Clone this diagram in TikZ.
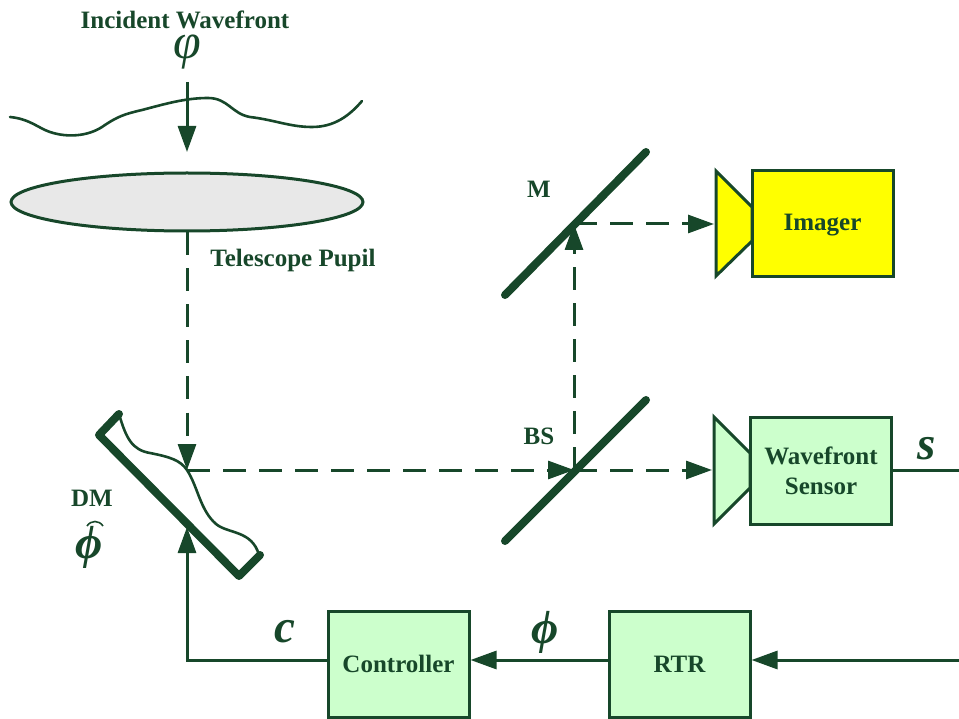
\documentclass[tikz,border=0pt]{standalone}
\usepackage{fontspec}
\setmainfont{Liberation Serif}
\usetikzlibrary{arrows.meta}
\usetikzlibrary{positioning}
\usetikzlibrary{shapes.geometric}
\definecolor{darkline}{HTML}{17472A}
\definecolor{paleblock}{HTML}{CCFFCC}
\definecolor{pupilgrey}{HTML}{E8E8E8}
\definecolor{imageryellow}{RGB}{255,255,0}
\tikzset{
  beam/.style={darkline, line width=3pt},
  dashbeam/.style={beam, dash pattern=on 23pt off 13pt},
  tip/.style={-{Triangle[length=26pt,width=18pt]}},
  mirror/.style={darkline, line width=8pt, line cap=round, line join=round},
  block/.style={draw=darkline, line width=3pt, minimum width=141pt, minimum height=106pt, inner sep=0pt, align=center, text=darkline, font=\fontsize{25}{30}\selectfont\bfseries},
  cone/.style={draw=darkline, line width=3pt, line join=miter},
  caption/.style={text=darkline, inner sep=0pt, font=\fontsize{25}{28}\selectfont\bfseries},
  symbol/.style={text=darkline, inner sep=0pt, font=\fontsize{47}{47}\selectfont\bfseries\itshape}
}
\begin{document}
\begin{tikzpicture}[x=1pt, y=-1pt]
\useasboundingbox (0,0) rectangle (959,719);

% Wellenfront und Pupille
\draw[darkline, line width=2.6pt, line cap=round] (10,117) .. controls (30,119) and (38,128) .. (50,132)
  .. controls (68,138) and (88,136) .. (102,127) .. controls (118,116) and (125,114) .. (142,110)
  .. controls (165,104) and (185,98) .. (208,98) .. controls (228,98) and (232,114) .. (250,117)
  .. controls (275,120) and (290,127) .. (312,127) .. controls (335,127) and (350,115) .. (362,101);
\node[draw=darkline, fill=pupilgrey, line width=3pt, shape=ellipse, minimum width=352pt, minimum height=58pt, inner sep=0pt] (pupil) at (187,202) {};
\node[caption] (inctext) at (185,20) {Incident Wavefront};
\node[symbol, font=\fontsize{50}{50}\selectfont\itshape, text height=26pt, text depth=8pt] (incphi) at (187,50) {φ};
\node[caption] (puptext) at (293,260) {Telescope Pupil};
\coordinate (incstart) at (187,82);
\coordinate (incend) at (187,152);

% Spiegel
\coordinate (dmhit) at (187,470);
\coordinate (dmback) at (187,527);
\coordinate (bshit) at (574,470);
\coordinate (mhit) at (574,224);
\draw[mirror] (119,414) -- (99,435) -- (239,576) -- (260,555);
\draw[darkline, line width=2.6pt] (119,414) .. controls (126,438) and (132,450) .. (150,453)
  .. controls (170,457) and (180,460) .. (187,470) .. controls (198,487) and (200,510) .. (216,524)
  .. controls (228,534) and (252,530) .. (259,555);
\draw[mirror] (505,541) -- (646,400);
\draw[mirror] (505,295) -- (646,152);
\node[caption] (mtext) at (539,189) {M};
\node[caption] (bstext) at (539,436) {BS};
\node[caption] (dmtext) at (92,498) {DM};
\node[symbol] (dmphi) at (89,547) {ϕ};
\draw[darkline, line width=1.6pt] (87,526) .. controls (91,520) and (99,520) .. (103,526);

% Kamera Imager
\draw[cone, fill=imageryellow] (716,171) -- (752,207) -- (752,241) -- (716,276) -- cycle;
\node[block, fill=imageryellow] (imager) at (822.5,224) {\raisebox{0pt}[20pt][6pt]{Imager}};
\coordinate (imgin) at (714,224);

% Kamera Wavefront Sensor
\draw[cone, fill=paleblock] (714,417) -- (750,453) -- (750,488) -- (714,524) -- cycle;
\node[block, fill=paleblock, minimum height=107pt] (sensor) at (821,470.5) {Wavefront\\Sensor};
\coordinate (senin) at (712,470);

% Regelkreis
\node[block, fill=paleblock] (controller) at (398.5,664) {Controller};
\node[block, fill=paleblock] (rtr) at (679.5,664) {RTR};
\coordinate (senout) at (959,470);
\coordinate (rtrin) at (959,660);
\coordinate (corner) at (187,660);
\node[symbol] (stext) at (927,449) {s};
\node[symbol] (ctext) at (285,632) {c};
\node[symbol] (phitext) at (545,632) {ϕ};

% Strahlen
\draw[beam, tip] (incstart) -- (incend);
\draw[dashbeam, tip] (pupil.south) -- (dmhit);
\draw[dashbeam, tip] (dmhit) -- (bshit);
\draw[dashbeam, tip] (bshit) -- (mhit);
\draw[dashbeam, tip] (mhit) -- (imgin);
\draw[dashbeam, tip] (bshit) -- (senin);
\draw[beam] (sensor.east |- senout) -- (senout);
\draw[beam, tip] (rtrin) -- (rtr.east |- rtrin);
\draw[beam, tip] (rtr.west |- rtrin) -- (controller.east |- rtrin);
\draw[beam, tip] (controller.west |- corner) -- (corner) -- (dmback);

\end{tikzpicture}
\end{document}
